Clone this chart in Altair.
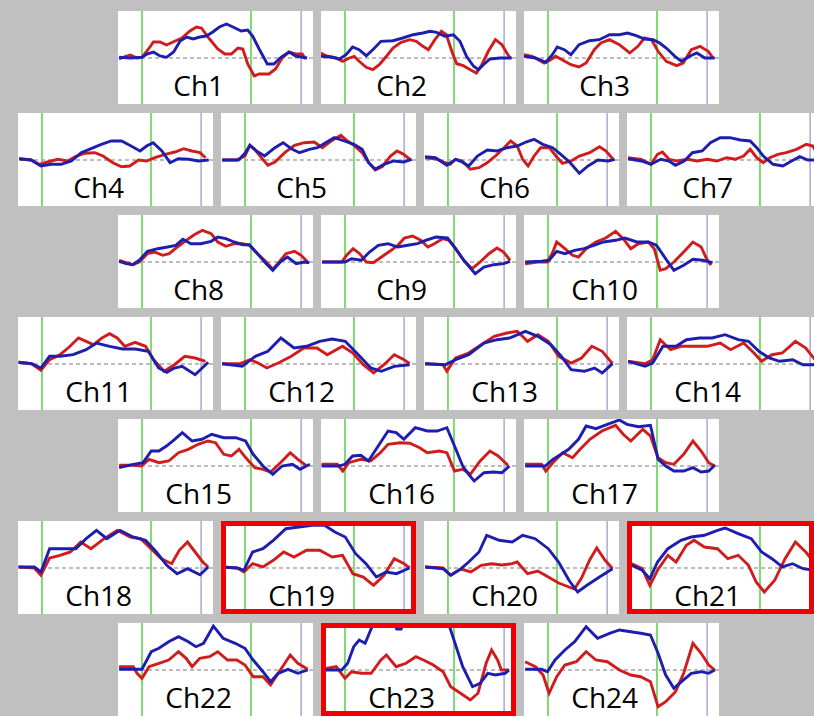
import altair as alt
import pandas as pd

# ---------------- data: (time in s, signal change) pairs ----------------
ch1_red = [(-4.2,-1),(-3,1.7),(-2.1,3),(-0.9,0),(0,0.7),(1.2,9),(2.1,16),(3.3,16),(4.5,13),(6.1,17),(7.3,20),(8.8,27),(10,31),(10.9,30),(12.4,19),(13.9,9),(15.2,4),(16.4,4),(17.6,10),(18.5,9),(19.4,-6),(20.6,-18),(21.5,-16),(23.3,-16),(24.5,-11),(25.8,0.7),(27,6),(28.2,4),(29.4,4),(30,-1)]
ch1_blue = [(-4.2,0.7),(-2.1,0),(0,0.7),(0.9,4),(2.1,6),(3.3,2),(4.5,0.7),(5.8,6),(7,17),(8.2,21),(9.4,19),(10.6,21),(11.8,22),(13,26),(14.2,31),(15.5,34),(16.7,31),(18.2,27),(19.4,28),(20.3,22),(21.5,9),(23,-6),(24.2,-6),(25.5,0.7),(27,6),(28.2,2),(30.3,0)]
ch2_red = [(-4.4,5),(-3.5,2.3),(-1.7,0),(-0.4,-3.3),(0.8,0),(1.7,1.7),(2.6,-3.3),(3.9,-9.3),(5.1,-11.7),(6.3,-6.7),(7.6,1.7),(8.8,10),(10.3,15.7),(11.9,18.3),(13.1,16.7),(14.3,11.7),(15.3,8.3),(16.5,18.3),(17.7,26.7),(18.6,23.3),(19.6,6.7),(20.5,-5.7),(21.7,-7.7),(23,-11.7),(24.1,-15),(25.1,-6.7),(26.3,6.7),(27.6,18.3),(28.8,13.3),(29.7,5),(30.3,0)]
ch2_blue = [(-4.4,1.7),(-2.3,0.7),(-1,-1),(0.2,3.3),(1.4,11),(2.6,8.3),(3.9,2.3),(5.1,8.3),(6.6,16.7),(8.8,17.3),(10.6,20),(12.5,23.3),(14.3,25),(15.6,26.7),(16.8,25.7),(18.3,21.7),(19.9,23.3),(21.1,16.7),(22.3,1.7),(23.6,-8.3),(24.5,-11.7),(25.4,-6.7),(26.6,-1),(28.5,0),(30.6,0)]
ch3_red = [(-4.4,3.3),(-2.9,1.7),(-0.7,-5),(0.5,-1.7),(1.4,1.7),(2.6,-1.7),(4.2,-6.7),(5.7,-9),(7,-5),(8.5,8.3),(9.7,15),(11.3,18.3),(13.1,13.3),(15,5),(16.5,11.7),(17.7,20),(19,18.3),(20.2,6.7),(21.7,-3.3),(23.6,-7.7),(24.8,-5),(26.3,8.3),(27.9,11.7),(29.4,6.7),(30.3,0)]
ch3_blue = [(-4.4,1.7),(-2.3,0),(-0.4,-4.3),(0.8,3.3),(1.7,11),(3,8.3),(4.2,3.3),(5.7,13.3),(7.6,17.3),(9.4,18.3),(11.3,23.3),(13.1,23.3),(14.6,25),(16.2,22.3),(17.7,19),(19.3,18.3),(20.5,15),(21.7,10),(23.3,1.7),(24.5,-3.3),(26,1.7),(27.3,5),(28.8,0),(30.6,0)]
ch4_red = [(-4.2,1.3),(-2,0),(-0.5,-4.3),(1,-2),(2.9,0.7),(4.7,-1),(6.3,4),(7.8,6.7),(9.7,7.3),(11.2,4),(13,-2.7),(14.6,-6.7),(16.1,-6),(17.7,0),(19.2,-1),(20.7,2.3),(22.6,5.7),(24.4,8),(26,11.3),(27.5,9),(29,7.3),(30,2.3)]
ch4_blue = [(-4.2,1.3),(-2,0),(-0.2,-6),(1.7,-4.3),(3.5,-4.3),(5.4,-1),(7.2,7.3),(9,11.3),(10.9,15.7),(12.7,19),(14.6,19),(16.1,14.7),(18,9),(19.2,14),(20.4,17.3),(22,9),(23.5,-2.7),(25,1.3),(26.9,0.7),(28.7,-1),(30.6,0)]
ch5_red = [(-4.2,0),(-1.5,0),(0,4),(0.9,14.7),(1.8,10.7),(3,2.3),(4.2,-5.3),(5.5,-2),(7.3,7.3),(9.1,14.7),(10.9,17.3),(12.7,18),(14.2,12.3),(15.8,19),(17.6,24.7),(18.8,19),(20,14.7),(21.5,7.3),(22.7,-2.7),(23.9,-10),(25.2,-6.7),(26.7,4),(27.9,9),(29.1,5.7),(30.3,0.7)]
ch5_blue = [(-4.2,0),(-1.2,0),(0,6.7),(0.9,14.7),(2.1,9),(3.6,4),(5.5,12.3),(7,17.3),(8.5,11.3),(10,7.3),(11.8,10.7),(13.3,12.3),(14.8,17.3),(16.4,22.3),(18.2,19),(20,15.7),(21.5,10.7),(22.7,-2.7),(23.9,-9.3),(25.5,-4.3),(27.3,-1),(29.1,-2),(30.6,0.7)]
ch6_red = [(-4.2,2.3),(-2.3,1.3),(-0.8,-2),(0.4,-4.3),(1.4,0.7),(2.6,-1),(4.1,-9.3),(5.7,-7.7),(7.2,-2.7),(8.7,4),(10.3,12.3),(11.5,19),(12.7,14),(13.7,0.7),(14.7,-6),(15.8,4),(17,12.3),(18.6,12.3),(19.8,4),(21,-3.3),(22.6,-1),(24.1,4),(26,7.3),(27.8,13.3),(29,9),(30.3,0.7)]
ch6_blue = [(-4.2,3.3),(-2.3,2.3),(-0.2,-5.3),(1.4,0.7),(2.6,-2),(3.8,-6),(5.4,4),(7.2,10),(9,9),(10.9,12.3),(12.7,14),(14.3,18),(15.8,20.7),(17.4,15.7),(19.2,12.3),(20.7,5.7),(22.3,-2),(24.1,-13.3),(25.7,-6),(27.5,0),(29.4,-1),(30.6,0.7)]
ch7_red = [(-4.2,2.3),(-1.8,0.7),(0,-4.3),(1.2,5.7),(2.1,8),(3.3,0.7),(4.8,-1),(6.7,0.7),(8.5,-1),(10.3,0.7),(12.1,-1),(13.9,2.3),(15.5,0.7),(17,4),(18.2,10.7),(19.4,2.3),(20.6,-2.7),(21.8,2.3),(23.3,5.7),(24.8,7.3),(26.7,10.7),(28.5,15.7),(29.7,14),(30.9,2.3)]
ch7_blue = [(-4.2,1.3),(-1.8,-1),(0,-4.3),(1.8,0.7),(3.3,-1),(4.5,-5.3),(6.1,-1),(7.6,7.3),(9.4,9),(10.9,17.3),(12.7,22.3),(14.5,22.3),(16.4,20),(18.2,19),(19.4,12.3),(20.6,4),(22.4,-4.3),(24.2,-6),(25.8,-1),(27.3,3.3),(28.8,0),(30,0)]
ch8_red = [(-4.2,1.7),(-2.9,-0.7),(-1.7,-2.7),(-0.5,0),(1,8.3),(2.3,10),(3.8,6.7),(5,8.3),(6.5,15),(8.1,21.7),(9.6,27.3),(11.1,31.7),(12.7,28.3),(13.9,20),(15.4,15.7),(16.9,18.3),(18.5,18.3),(19.7,16.7),(21.2,8.3),(22.8,0),(24,-7.3),(25.2,0),(26.4,8.3),(28,10.7),(29.2,6.7),(30.4,0)]
ch8_blue = [(-4.2,0.7),(-2.9,-1.7),(-1.7,-2.7),(-0.5,1.7),(1,10.7),(2.9,13.3),(4.7,15),(6.2,16.7),(7.5,22.7),(9,18.3),(10.8,18.3),(12.7,20.7),(13.9,25),(15.4,23.3),(16.9,20),(18.5,17.3),(19.7,17.3),(21.2,8.3),(22.8,-1.7),(24,-8.3),(25.5,0.7),(26.7,5),(28.3,-1.7),(29.8,0),(30.7,-0.7)]
ch9_red = [(-4.2,0),(-0.6,0),(0.3,6.7),(1.5,13.3),(2.7,8.3),(3.9,0),(5.2,-0.7),(6.7,5),(8.2,10.7),(9.7,16.7),(10.9,24),(12.4,26),(13.9,21.7),(15.2,15),(16.4,18.3),(17.9,23.3),(19.1,21.7),(20.3,13.3),(21.8,1.7),(23.3,-6.7),(24.8,0),(26.4,8.3),(27.9,14),(29.1,10),(30.3,1.7)]
ch9_blue = [(-4.2,0),(0,0),(1.2,3.3),(3,1.7),(4.5,10),(6.1,16.7),(7.9,18.3),(9.7,15),(11.5,16.7),(13.3,18.3),(14.8,21.7),(16.7,25),(18.8,24),(20.3,13.3),(21.8,1.7),(23.9,-11.7),(25.5,-5),(27.3,-2.7),(29.1,-1.7),(30.3,0.7)]
ch10_red = [(-4.2,-1.7),(-1.9,0),(-0.1,0),(0.9,10),(1.6,20),(3.1,13.3),(4.5,6.7),(5.6,5),(7,13.3),(8.8,20),(10.6,24),(12.4,30.7),(13.8,23.3),(15.2,13.3),(16.6,18.3),(18.4,20),(19.5,13.3),(20.6,-8.3),(21.6,-6.7),(23.1,0),(24.9,10),(26.6,20),(28.1,15),(29.1,3.3),(29.9,-3.3)]
ch10_blue = [(-4.2,0),(-1.2,0.7),(0.2,1.7),(1.6,10.7),(3.1,8.3),(4.9,11.7),(6.6,13.3),(8.4,16.7),(10.2,20),(12.4,21.7),(14.1,24),(16.3,20),(18.4,20),(19.9,16.7),(21.6,3.3),(23.1,-8.3),(24.9,-3.3),(26.6,2.7),(28.4,1.7),(30.2,-0.7)]
ch11_red = [(-4.3,1.7),(-1.9,0.3),(-0.2,-6.3),(1.4,4.3),(3.3,9.3),(4.8,16),(6.7,26),(8.1,22.7),(9.5,19.3),(11,26),(12.4,30.3),(13.8,26),(15.2,17.7),(17.1,21.7),(19,17.7),(20.5,4.3),(22.4,-7.3),(24.3,-0.7),(26.2,7.7),(28.1,6),(30,2.7)]
ch11_blue = [(-4.3,1.7),(-1.9,0.3),(-0.2,-4),(1.4,7.7),(3.3,7.7),(5.7,9.3),(8.1,14.3),(10,21),(12.4,17.7),(14.8,15),(17.1,15),(19.5,12.7),(21.4,-4),(22.9,-8.3),(24.3,-4),(25.7,-2.3),(28.1,-10.7),(30.5,1.7)]
ch12_red = [(-4.2,0.3),(-0.9,0.3),(0.9,4.3),(2.4,1),(4,-4),(6.1,1),(8.5,7.7),(10.8,16),(13.2,16),(15.1,9.3),(17.9,17.7),(19.8,11),(21.7,-0.7),(23.6,-9),(25.5,-0.7),(27.4,9.3),(29.2,4.3),(30.2,0.3)]
ch12_blue = [(-4.2,0.3),(-0.5,-2.3),(1.9,7.7),(4.2,12.7),(6.6,26),(9,16),(11.3,17.7),(13.7,22.7),(16,25),(18.4,22.7),(20.8,9.3),(23.1,-4),(25,-7.3),(27.4,-2.3),(30.2,-0.7)]
ch13_red = [(-4.2,0.3),(-0.9,-0.7),(-0.2,-7.3),(1.4,6),(3.8,11),(6.1,19.3),(8.5,27.7),(10.8,31),(12.7,32.7),(14.6,22.7),(16.5,29.3),(18.4,22.7),(20.3,7.7),(22.6,1),(24.5,6),(26.4,17.7),(28.3,12.7),(30.2,0.3)]
ch13_blue = [(-4.2,0.3),(-0.5,-0.7),(1.4,4.3),(3.8,9.3),(6.6,21),(9,24.3),(11.3,26),(14.2,32.7),(16.5,27.7),(18.9,19.3),(20.8,7.7),(22.6,-5.7),(25,-7.3),(26.9,-4),(28.3,-9),(30.2,0.3)]
ch14_red = [(-4.2,2.7),(-1.1,0.3),(0.3,4.3),(1.7,24.3),(3.6,14.3),(5.5,17.7),(7.9,17.7),(10.3,17.7),(12.7,21),(14.6,14.3),(17,21),(18.9,11),(20.3,2.7),(22.2,9.3),(24.1,11),(26.5,22.7),(28.4,16),(30.1,4.3)]
ch14_blue = [(-4.2,2.7),(-1.1,-2.3),(0.3,1),(2.2,17.7),(4.6,17.7),(6.5,24.3),(8.9,26),(11.2,26),(13.6,29.3),(16,24.3),(17.9,22.7),(19.8,12.7),(21.7,6),(23.6,2.7),(26,4.3),(27.9,-0.7),(30.1,-0.7)]
ch15_red = [(-4.2,0.7),(-1.6,0.7),(-0.1,0),(1.3,6.7),(3.1,3.3),(4.9,5),(6.7,13.3),(8.5,16.7),(10.3,21.7),(12.1,25),(13.5,23.3),(15,11.7),(16.4,10),(17.8,16.7),(19.3,6.7),(20.7,-1.7),(22.2,-3.3),(23.6,-6),(25.4,3.3),(27.2,13.3),(28.6,6.7),(30.1,0.7)]
ch15_blue = [(-4.2,-1.7),(-1.6,1.7),(0.2,3.3),(1.7,15),(3.1,15),(4.5,20),(6,26.7),(7.4,33.3),(9.2,25),(11,26.7),(12.8,31.7),(15,28.3),(17.2,28.3),(19,25),(20.4,11.7),(22.2,0),(24,-8.3),(25.7,0),(27.6,1.7),(29,-3.3),(30.8,1.7)]
ch16_red = [(-4.3,1.7),(-1.4,1.7),(-0.4,-5),(0.7,3.3),(2.9,6.7),(4.7,5),(6.5,13.3),(7.9,21.7),(10.1,23.3),(11.9,22.7),(13.7,18.3),(15.1,13.3),(17.3,15),(18.7,13.3),(20.1,-5),(21.6,-3.3),(23,-8.3),(24.8,5),(26.6,15),(28.1,10),(29.9,0.7)]
ch16_blue = [(-4.3,0),(-1.1,0),(0,1.7),(1.4,10),(2.9,10.7),(4.3,5),(6.1,20),(7.9,35),(9.4,33.3),(10.8,26.7),(12.9,38.3),(15.1,35),(16.9,35),(18.7,38.3),(20.1,20),(21.6,0),(22.7,-8.3),(23.7,-15),(25.5,-6.7),(27.3,-6),(28.8,-6.7),(30.2,0)]
ch17_red = [(-4.2,1.7),(-1.2,1.7),(-0.4,-5),(0.9,3.3),(2.7,13.3),(4.5,8.3),(5.9,16.7),(7.7,26.7),(9.9,35),(12.4,40.7),(13.8,31.7),(15.2,25),(17.4,36.7),(18.8,30),(20.2,8.3),(21.6,3.3),(23.1,1.7),(24.9,11.7),(26.6,25),(28.1,15),(29.5,3.3),(30.6,0)]
ch17_blue = [(-4.2,0),(-0.5,0),(0.9,6.7),(2.4,11.7),(3.8,16.7),(5.6,26.7),(7,40),(8.8,37.3),(10.9,41.7),(13.1,46),(14.5,41.7),(16.6,39.3),(18.8,40.7),(20.2,6.7),(21.6,0),(23.1,-5),(24.9,-5),(26.6,-1.7),(28.1,-6),(29.5,-5),(30.6,0.7)]
ch18_red = [(-4.3,1),(-1.4,0),(-0.2,-7.3),(1.4,10),(3.3,12.7),(5.2,16),(7.1,26),(9,19.3),(11.4,29.3),(13.8,37.7),(16.2,31),(18.1,29.3),(20,19.3),(21.9,9.3),(23.8,4.3),(25.2,17.7),(26.7,26),(28.1,16),(29.5,6),(30.5,1)]
ch18_blue = [(-4.3,1),(-1.4,1),(-0.2,-4),(1.4,19.3),(3.8,19.3),(6.2,19.3),(8.1,29.3),(10,37.7),(11.9,29.3),(14.3,37.7),(16.7,31),(19,27.7),(21,16),(22.9,2.7),(24.8,-5.7),(26.7,-0.7),(29,-6.7),(30.5,1)]
ch19_red = [(-4.2,1),(-1.4,0),(-0.2,-4),(1.4,4.3),(3.3,1),(5.2,7.7),(7.1,16),(9,11),(11.3,17.7),(13.7,17.7),(16,11),(17.9,12.7),(19.8,-5.7),(21.7,-9),(23.6,-17.3),(25.5,-7.3),(27.4,9.3),(29.2,4.3),(30.2,0)]
ch19_blue = [(-4.2,1),(-1.4,0),(-0.2,-2.3),(1.4,16),(3.3,19.3),(5.2,27.7),(7.5,39.3),(9.9,41),(12.3,42.7),(14.6,42.7),(16.5,36),(18.4,31),(20.3,14.3),(22.2,4.3),(24.1,-9),(25.9,-4),(27.8,-5.7),(30.2,0)]
ch20_red = [(-4.2,1),(-0.9,0),(0.5,-7.3),(2.4,-1),(4.2,-4),(6.1,2.7),(8,4.3),(9.9,3),(11.8,4.3),(12.7,6),(14.6,-5.7),(16.5,-3),(18.4,-9),(20.3,-15),(22.2,-19),(23.2,-21),(24.5,-10),(26,8),(27.3,20),(28.8,8),(30.2,-0.7)]
ch20_blue = [(-4.2,1),(-0.9,-0.7),(0.5,-7.3),(2.4,-0.7),(3.8,6),(5.7,16),(7.1,32.7),(9.4,27.7),(11.8,26),(13.7,32.7),(16,29.3),(18.4,19.3),(20.3,6),(22.2,-12.3),(23.8,-24),(25.5,-17.3),(27.8,-9),(30.2,-0.7)]
ch21_red = [(-4.2,6),(-1.6,-0.7),(-0.2,-17.3),(1.2,-2.3),(3.1,12.7),(4.6,6),(6.5,22.7),(7.9,27.7),(9.8,21),(12.2,19.3),(14.1,9.3),(16,12.7),(17.9,2.7),(19.3,-14),(20.8,-24),(22.7,-12.3),(24.6,9.3),(26.5,26),(28.4,16),(30.1,4.3)]
ch21_blue = [(-4.2,4.3),(-1.6,-2.3),(-0.2,-10.7),(1.2,6),(3.1,19.3),(5.5,27.7),(7.4,31),(9.8,32.7),(12.2,37.7),(13.6,40),(16,34.3),(18.4,29.3),(20.3,16),(22.2,9.3),(24.1,1),(26,4.3),(27.9,-0.7),(30.1,-2.3)]
ch22_red = [(-4.2,3.3),(-1.6,3.3),(-0.9,-3.3),(0,-8.3),(1.3,3.3),(3.1,6.7),(4.9,10),(6.7,18.3),(8.1,11.7),(9.2,3.3),(10.6,11.7),(12.4,13.3),(13.9,18.3),(15.7,10),(17.4,10),(18.9,5),(20.4,-6.7),(22.2,-6.7),(23.6,-15),(25,-3.3),(27.2,15),(28.6,6.7),(30.4,0.7)]
ch22_blue = [(-4.2,0.7),(-0.9,0.7),(0,0.7),(1.7,18.3),(3.1,21.7),(4.9,28.3),(6.7,33.3),(8.5,28.3),(9.9,23.3),(11.3,26.7),(13.1,44),(14.9,31.7),(17.1,26.7),(18.9,21.7),(20.4,10),(22.2,-1.7),(23.6,-11.7),(25,-3.3),(26.8,0.7),(28.6,-3.3),(30.4,0)]
ch23_red = [(-4.2,0.7),(-1.6,3.3),(0,-8.3),(1.2,-1.7),(3,-3.3),(4.8,-3.3),(6.6,10),(7.6,15),(9.4,3.3),(11.2,6.7),(13,13.3),(14.4,10),(16.2,5),(18,-1.7),(19.4,-16.7),(21.2,-23.3),(23,-30),(24.4,-23.3),(25.9,6.7),(26.9,20),(28,10),(28.7,0),(30.1,0)]
ch23_blue = [(-4.2,0),(-0.6,0),(0.5,6.7),(1.6,23.3),(2.6,30),(3.7,26.7),(5.1,45),(6.2,55),(8.5,52),(9.5,41),(10.3,41),(11.2,55),(18.5,55),(19.8,33.3),(21.6,3.3),(23.4,-16.7),(24.8,-13.3),(26.2,-3.3),(27.6,-5),(29.4,-3.3),(30.1,0)]
ch24_red = [(-4.2,8.3),(-2.3,3.3),(-0.9,-5),(0.2,-23.3),(1.6,-6.7),(3.1,5),(5.2,8.3),(7,18.3),(8.8,10),(10.9,8.3),(13.1,0),(15.2,-5),(17,-6.7),(18.8,-11.7),(20.2,-36.7),(21.6,-31.7),(23.4,-21.7),(24.9,-3.3),(26.6,26.7),(28.1,16.7),(29.5,5),(30.6,0)]
ch24_blue = [(-4.2,0.7),(-1.2,0.7),(-0.1,-1.7),(1.3,10),(3.1,20),(4.9,28.3),(7,43.3),(9.1,31.7),(11.3,36.7),(13.1,40),(15.2,38.3),(17,36.7),(18.8,35),(20.2,16.7),(21.6,-5),(23.1,-18.3),(24.5,-11.7),(26.3,-3.3),(28.1,-1.7),(29.5,-3.3),(30.6,0)]

RED_SERIES = {1: ch1_red, 2: ch2_red, 3: ch3_red, 4: ch4_red, 5: ch5_red, 6: ch6_red,
              7: ch7_red, 8: ch8_red, 9: ch9_red, 10: ch10_red, 11: ch11_red, 12: ch12_red,
              13: ch13_red, 14: ch14_red, 15: ch15_red, 16: ch16_red, 17: ch17_red, 18: ch18_red,
              19: ch19_red, 20: ch20_red, 21: ch21_red, 22: ch22_red, 23: ch23_red, 24: ch24_red}
BLUE_SERIES = {1: ch1_blue, 2: ch2_blue, 3: ch3_blue, 4: ch4_blue, 5: ch5_blue, 6: ch6_blue,
               7: ch7_blue, 8: ch8_blue, 9: ch9_blue, 10: ch10_blue, 11: ch11_blue, 12: ch12_blue,
               13: ch13_blue, 14: ch14_blue, 15: ch15_blue, 16: ch16_blue, 17: ch17_blue, 18: ch18_blue,
               19: ch19_blue, 20: ch20_blue, 21: ch21_blue, 22: ch22_blue, 23: ch23_blue, 24: ch24_blue}

ROWS = [[1, 2, 3], [4, 5, 6, 7], [8, 9, 10], [11, 12, 13, 14], [15, 16, 17], [18, 19, 20, 21], [22, 23, 24]]
HIGHLIGHTED = [19, 21, 23]
EDGE_CUT = [7, 14, 21]

TASK_MARKS = [0, 20]
END_MARK = 29.2
LABEL_T = 10.4
LABEL_V = -37.5

# ---------------- styling / layout ----------------
T_LEFT = -4.4
PX_PER_S = 5.45
V_MIN, V_MAX = -46, 47
PANEL_W, PANEL_H, EDGE_W = 195, 93, 187
SPACER_W = 92
H_GAP, V_GAP = 8, 9
BOX_W = 5
BG = "#c0c0c0"
RED = "#d01c1c"
BLUE = "#1e1eae"
GREEN = "#72d964"
PURPLE = "#a9a9d6"
GRAY = "#a6a6a6"
BOX_RED = "#ee0000"
FONT = "Open Sans"


def make_panel(ch):
    width = EDGE_W if ch in EDGE_CUT else PANEL_W
    xs = alt.Scale(domain=[T_LEFT, T_LEFT + width / PX_PER_S], nice=False, zero=False)
    ys = alt.Scale(domain=[V_MIN, V_MAX], nice=False, zero=False)
    X = alt.X("t:Q", scale=xs, axis=None)
    Y = alt.Y("v:Q", scale=ys, axis=None)
    red = pd.DataFrame(RED_SERIES[ch], columns=["t", "v"])
    blue = pd.DataFrame(BLUE_SERIES[ch], columns=["t", "v"])
    zero = alt.Chart(pd.DataFrame({"v": [0.0]})).mark_rule(
        color=GRAY, strokeDash=[4, 3], strokeWidth=1.3, clip=True).encode(y=Y)
    task = alt.Chart(pd.DataFrame({"t": TASK_MARKS})).mark_rule(
        color=GREEN, strokeWidth=1.8, clip=True).encode(x=X)
    end = alt.Chart(pd.DataFrame({"t": [END_MARK]})).mark_rule(
        color=PURPLE, strokeWidth=1.5, clip=True).encode(x=X)
    r = alt.Chart(red).mark_line(color=RED, strokeWidth=2.9, clip=True).encode(x=X, y=Y)
    b = alt.Chart(blue).mark_line(color=BLUE, strokeWidth=2.9, clip=True).encode(x=X, y=Y)
    lab = alt.Chart(pd.DataFrame({"t": [LABEL_T], "v": [LABEL_V], "label": [f"Ch{ch}"]})).mark_text(
        font=FONT, fontSize=28, align="center", baseline="alphabetic", color="#000000", clip=True
    ).encode(x=X, y=Y, text="label:N")
    layers = [zero, task, end, r, b, lab]
    if ch in HIGHLIGHTED:
        box = alt.Chart(pd.DataFrame({"k": [ch]})).mark_rect(
            fillOpacity=0, stroke=BOX_RED, strokeWidth=BOX_W, clip=True
        ).encode(x=alt.value(BOX_W / 2), x2=alt.value(width - BOX_W / 2),
                 y=alt.value(BOX_W / 2), y2=alt.value(PANEL_H - BOX_W / 2))
        layers.append(box)
    return alt.layer(*layers).properties(
        width=width, height=PANEL_H,
        view=alt.ViewBackground(fill="white", strokeWidth=0))


def spacer():
    return alt.Chart(pd.DataFrame({"t": [0.0]})).mark_point(opacity=0, clip=True).encode(
        x=alt.X("t:Q", axis=None)
    ).properties(width=SPACER_W, height=PANEL_H,
                 view=alt.ViewBackground(fill="transparent", strokeWidth=0))


rows = []
for chans in ROWS:
    panels = [make_panel(c) for c in chans]
    if len(chans) == 3:
        panels = [spacer()] + panels
    rows.append(alt.hconcat(*panels, spacing=H_GAP))

chart = alt.vconcat(*rows, spacing=V_GAP).properties(
    background=BG,
    padding={"left": 18, "top": 11, "right": 0, "bottom": 0},
)

chart.save("out.html", embed_options={"renderer": "svg", "actions": False})
